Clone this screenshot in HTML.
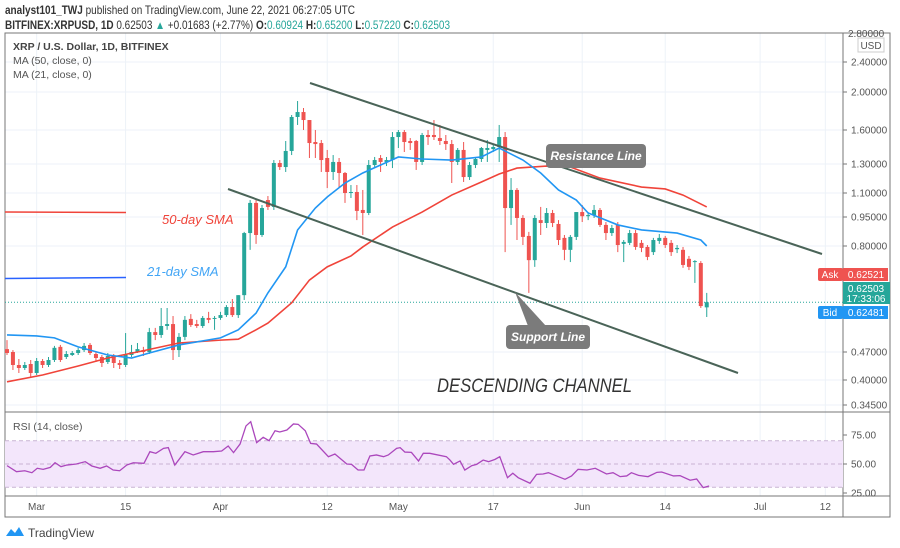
<!DOCTYPE html>
<html><head><meta charset="utf-8">
<style>
body{margin:0;background:#fff;width:900px;height:548px;overflow:hidden;font-family:"Liberation Sans",sans-serif}
svg{position:absolute;left:0;top:0}
</style></head>
<body>
<svg id="c" width="900" height="548" viewBox="0 0 900 548">
<g font-size="12" fill="#333">
<text x="5" y="14" textLength="350" lengthAdjust="spacingAndGlyphs"><tspan font-weight="bold">analyst101_TWJ</tspan> published on TradingView.com, June 22, 2021 06:27:05 UTC</text>
<text x="5" y="29" font-size="11.5" textLength="445" lengthAdjust="spacingAndGlyphs"><tspan font-weight="bold">BITFINEX:XRPUSD, 1D</tspan> 0.62503 <tspan fill="#26a69a">▲</tspan> +0.01683 (+2.77%) <tspan font-weight="bold">O:</tspan><tspan fill="#26a69a">0.60924</tspan> <tspan font-weight="bold">H:</tspan><tspan fill="#26a69a">0.65200</tspan> <tspan font-weight="bold">L:</tspan><tspan fill="#26a69a">0.57220</tspan> <tspan font-weight="bold">C:</tspan><tspan fill="#26a69a">0.62503</tspan></text>
</g>
<g id="grid"></g>
<rect x="5" y="33" width="885" height="484" fill="none" stroke="#777" stroke-width="1"/>
<line x1="843" y1="33" x2="843" y2="517" stroke="#777"/>
<line x1="5" y1="412" x2="890" y2="412" stroke="#777"/>
<line x1="5" y1="496" x2="890" y2="496" stroke="#777"/>
<g id="rsi"></g>
<g id="price"></g>
<g id="axes" font-size="10" fill="#555"></g>
<g>
<line x1="310" y1="83" x2="822" y2="254" stroke="#4a6458" stroke-width="2"/>
<line x1="228" y1="189" x2="738" y2="373" stroke="#4a6458" stroke-width="2"/>
<rect x="546" y="144" width="100" height="24" rx="4" fill="#7b7b7b"/>
<text x="596" y="160" text-anchor="middle" font-size="12" font-style="italic" font-weight="bold" fill="#fff">Resistance Line</text>
<polygon points="515,292 528,326 546,326" fill="#7b7b7b"/>
<rect x="506" y="325" width="84" height="24" rx="4" fill="#7b7b7b"/>
<text x="548" y="341" text-anchor="middle" font-size="12" font-style="italic" font-weight="bold" fill="#fff">Support Line</text>
<line x1="5" y1="212" x2="126" y2="212.5" stroke="#f0443a" stroke-width="1.5"/>
<line x1="5" y1="278.5" x2="126" y2="277.5" stroke="#2962ff" stroke-width="1.5"/>
<text x="162" y="224" font-size="13" font-style="italic" fill="#f0443a">50-day SMA</text>
<text x="147" y="276" font-size="13" font-style="italic" fill="#42a5f5">21-day SMA</text>
<text x="437" y="392" font-size="19" font-style="italic" fill="#333" textLength="195" lengthAdjust="spacingAndGlyphs">DESCENDING CHANNEL</text>
</g>
<g font-size="10.5" fill="#555">
<text x="13" y="50" font-weight="bold" fill="#444">XRP / U.S. Dollar, 1D, BITFINEX</text>
<text x="13" y="64">MA (50, close, 0)</text>
<text x="13" y="78">MA (21, close, 0)</text>
<text x="13" y="430">RSI (14, close)</text>
</g>
<g font-size="10">
<rect x="818" y="268" width="25" height="13" rx="2" fill="#ef5350"/>
<text x="830" y="278" text-anchor="middle" fill="#fff">Ask</text>
<rect x="843" y="268" width="45" height="13" fill="#ef5350"/>
<text x="866" y="278" text-anchor="middle" fill="#fff">0.62521</text>
<rect x="843" y="282" width="47" height="22" fill="#26a69a"/>
<text x="866" y="292" text-anchor="middle" fill="#fff">0.62503</text>
<text x="866" y="302" text-anchor="middle" fill="#fff">17:33:06</text>
<rect x="818" y="306" width="25" height="13" rx="2" fill="#2196f3"/>
<text x="830" y="316" text-anchor="middle" fill="#fff">Bid</text>
<rect x="843" y="306" width="45" height="13" fill="#2196f3"/>
<text x="866" y="316" text-anchor="middle" fill="#fff">0.62481</text>
<rect x="858" y="38" width="26" height="14" fill="#fff" stroke="#ccc"/>
<text x="871" y="49" text-anchor="middle" fill="#555">USD</text>
</g>
<g>
<path d="M6 536 l5 -7 l4 4 l4 -6 l5 9 z" fill="#2196f3"/>
<text x="28" y="537" font-size="12" fill="#444">TradingView</text>
</g>
</svg>
<script>
const priceTicks=[2.4,2.0,1.6,1.3,1.1,0.95,0.8,0.47,0.40,0.345];
const priceTickLabels=["2.40000","2.00000","1.60000","1.30000","1.10000","0.95000","0.80000","0.47000","0.40000","0.34500"];
const rsiTicks=[75,50,25];
const rsiTickLabels=["75.00","50.00","25.00"];
const dateTickDays=[5,20,36,54,66,82,97,111,127,138];
const dateTickLabels=["Mar","15","Apr","12","May","17","Jun","14","Jul","12"];
const opens=[0.479,0.470,0.4375,0.43,0.44,0.4175,0.4475,0.4375,0.45,0.486,0.4575,0.4625,0.4675,0.476,0.492,0.465,0.4575,0.445,0.46,0.4425,0.4375,0.4625,0.47,0.476,0.47,0.532,0.523,0.551,0.557,0.476,0.517,0.573,0.557,0.551,0.576,0.573,0.576,0.585,0.610,0.585,0.647,0.867,1.038,0.857,1.056,1.013,1.309,1.279,1.415,1.737,1.789,1.705,1.494,1.485,1.353,1.245,1.318,1.238,1.10,1.107,0.994,0.975,1.293,1.353,1.318,1.335,1.538,1.582,1.503,1.503,1.318,1.556,1.556,1.529,1.503,1.476,1.318,1.424,1.210,1.293,1.344,1.424,1.432,1.45,1.538,1.006,1.121,0.945,0.852,0.756,0.934,0.919,0.975,0.914,0.842,0.788,0.847,0.981,0.955,0.962,0.994,0.909,0.867,0.909,0.811,0.816,0.867,0.816,0.797,0.781,0.826,0.842,0.816,0.790,0.788,0.760,0.750,0.747,0.609];
const highs=[0.507,0.476,0.4525,0.445,0.45,0.455,0.4525,0.4575,0.489,0.492,0.473,0.473,0.483,0.498,0.498,0.47,0.4625,0.4675,0.465,0.45,0.529,0.492,0.498,0.486,0.545,0.545,0.607,0.607,0.582,0.529,0.582,0.588,0.570,0.582,0.595,0.582,0.595,0.616,0.635,0.647,0.873,1.056,1.056,1.025,1.081,1.335,1.335,1.503,1.758,1.905,1.832,1.705,1.60,1.512,1.424,1.379,1.353,1.245,1.155,1.155,1.121,1.335,1.362,1.379,1.362,1.582,1.60,1.60,1.529,1.512,1.574,1.60,1.705,1.653,1.556,1.512,1.441,1.494,1.318,1.353,1.45,1.512,1.476,1.653,1.582,1.203,1.134,0.962,0.873,0.962,1.013,1.006,0.994,0.934,0.857,0.857,0.981,1.025,0.981,1.025,1.006,0.924,0.909,0.924,0.831,0.883,0.883,0.831,0.805,0.842,0.862,0.852,0.831,0.805,0.797,0.769,0.756,0.753,0.654];
const lows=[0.4625,0.425,0.4175,0.425,0.4075,0.4125,0.43,0.4325,0.445,0.445,0.4525,0.46,0.4625,0.47,0.4625,0.445,0.4325,0.44,0.43,0.4275,0.4325,0.4575,0.4675,0.46,0.465,0.507,0.514,0.539,0.45,0.4575,0.507,0.548,0.545,0.545,0.560,0.539,0.570,0.579,0.579,0.576,0.632,0.788,0.811,0.847,0.994,0.994,1.259,1.245,1.379,1.653,1.60,1.353,1.353,1.245,1.134,1.19,1.134,1.038,1.069,0.934,0.857,0.962,1.272,1.245,1.286,1.272,1.441,1.406,1.424,1.259,1.293,1.468,1.512,1.468,1.424,1.169,1.293,1.176,1.19,1.272,1.318,1.318,1.406,1.318,0.781,0.909,0.831,0.805,0.654,0.735,0.857,0.893,0.898,0.805,0.756,0.750,0.831,0.924,0.934,0.945,0.898,0.831,0.852,0.781,0.750,0.805,0.788,0.781,0.756,0.772,0.811,0.794,0.769,0.778,0.732,0.725,0.685,0.607,0.579];
const closes=[0.4675,0.4375,0.43,0.4375,0.4175,0.4475,0.4375,0.45,0.483,0.45,0.465,0.4675,0.476,0.489,0.4675,0.455,0.4425,0.46,0.4425,0.4375,0.4625,0.47,0.479,0.47,0.532,0.523,0.551,0.557,0.476,0.517,0.570,0.554,0.551,0.576,0.570,0.576,0.585,0.610,0.585,0.647,0.867,1.038,0.857,1.006,1.013,1.309,1.279,1.415,1.737,1.789,1.705,1.485,1.476,1.335,1.245,1.318,1.238,1.10,1.107,0.988,0.975,1.293,1.335,1.318,1.335,1.538,1.582,1.494,1.485,1.318,1.556,1.538,1.538,1.503,1.476,1.318,1.424,1.210,1.293,1.344,1.441,1.441,1.45,1.538,1.006,1.121,0.945,0.847,0.756,0.945,0.919,0.975,0.919,0.831,0.788,0.847,0.981,0.955,0.962,0.994,0.909,0.867,0.893,0.805,0.821,0.867,0.797,0.794,0.766,0.831,0.842,0.805,0.781,0.794,0.741,0.735,0.753,0.613,0.625];
const ma21Days=[0,5,8,12,17,21,24,29,36,39,42,44,47,49,52,54,57,60,63,66,70,75,80,83,87,90,93,96,98,103,107,113,117,118];
const ma21Vals=[0.523,0.520,0.514,0.486,0.4625,0.455,0.4675,0.492,0.514,0.539,0.591,0.654,0.735,0.883,1.006,1.075,1.169,1.238,1.293,1.362,1.344,1.335,1.362,1.441,1.335,1.238,1.121,1.056,0.975,0.909,0.883,0.867,0.831,0.80];
const ma50Days=[0,6,12,17,22,29,36,39,42,44,48,51,54,58,60,65,70,75,80,83,86,91,95,100,107,111,114,118];
const ma50Vals=[0.396,0.4125,0.435,0.455,0.47,0.498,0.507,0.51,0.539,0.560,0.623,0.694,0.735,0.769,0.797,0.898,0.981,1.087,1.176,1.231,1.272,1.286,1.279,1.203,1.141,1.128,1.087,1.013];
const rsiDays=[0,1.6,3,4.2,5.1,6.1,7.3,8.1,9.1,10.1,11.7,13.2,14.3,15.7,16.8,17.9,19,20.2,21.3,23.1,24.1,25.1,26.4,27.2,28.3,30,31.4,33.1,34.8,36.2,37.3,38.2,39.3,40.3,41.1,42.1,43.2,44.2,45.2,46,47.2,48.3,49.1,50.3,51.2,52.2,54.2,55.3,57.3,58.1,59.2,60.2,61.2,62.3,63.5,64.3,65.7,66.3,67.1,68.2,69.4,70.2,71.3,74.1,74.7,75.3,76.4,77.2,78.4,79.2,80.3,81.2,82.3,83.1,84.4,85.3,86.2,88.2,89.3,90.4,91.3,94.1,95.2,96.3,97.8,99.2,101.1,102.2,103.4,104.5,105.3,106.5,108.1,109.6,110.4,112.4,113.5,115.2,116.3,117.4,118.4];
const rsiVals=[48.6,43.4,44.2,42.5,46.3,45.4,47.1,51.1,47.7,49.1,50,52,48.3,46.3,48.3,44.8,44.2,49.1,51.1,50.6,60.6,59.2,63.5,64.1,49.1,60.6,57.8,60.6,60.6,61.2,65.5,59.8,67.2,82.8,86.5,68.4,73,70.1,78.7,77.6,79.3,84.5,84.2,78.7,67.8,67.2,56.3,58.6,50,49.7,44.8,44.8,56.9,57.8,56.3,57.8,63.5,64.1,60.3,60,52.6,59.2,59.2,56.3,53.4,49.7,52.6,44.8,48.6,49.7,53.4,52,54,56.3,38.2,42,38.2,33.4,41.1,41.4,42.5,36.8,39.7,45.4,44.8,46.3,41.4,42.5,39.1,39.7,42.5,40.2,39.1,42.8,43.1,39.7,40,36,37.1,29.6,31];

const NS="http://www.w3.org/2000/svg";
const priceTickY=[62,92,130,164,193,217,246,352,380,405];
const X0=7, DX=5.93;
function xOf(d){return X0+DX*d;}
function yOf(p){
  const n=priceTicks.length;
  for(let i=0;i<n-1;i++){
    const a=priceTicks[i],b=priceTicks[i+1];
    if((p<=a&&p>=b)||i===n-2||(i===0&&p>a)){
      return priceTickY[i]+(a-p)/(a-b)*(priceTickY[i+1]-priceTickY[i]);
    }
  }
  return priceTickY[0];
}
function yR(v){return 435+(75-v)*1.16;}
function mk(tag,attrs,parent){const e=document.createElementNS(NS,tag);for(const k in attrs)e.setAttribute(k,attrs[k]);parent.appendChild(e);return e;}

const gridG=document.getElementById('grid');
priceTicks.forEach((p)=>{
  const l=mk('line',{x1:5,x2:843,y1:yOf(p),y2:yOf(p),stroke:'#edf2f8'},gridG);
  
  
});
dateTickDays.forEach(d=>{
  const l=mk('line',{x1:xOf(d),x2:xOf(d),y1:33,y2:496,stroke:'#edf2f8'},gridG);
  
  
});
const rsiG=document.getElementById('rsi');
const band=mk('rect',{x:5,y:yR(70),width:838,height:yR(30)-yR(70),fill:'#f3e6fb'},rsiG);


[70,50,30].forEach(v=>{
  const l=mk('line',{x1:5,x2:843,y1:yR(v),y2:yR(v),stroke:'#c9b3d3','stroke-dasharray':'4,3'},rsiG);
  
  
});
const rsiPath=mk('polyline',{points:rsiDays.map((d,i)=>xOf(d)+','+yR(rsiVals[i])).join(' '),fill:'none',stroke:'#ab47bc','stroke-width':1.3},rsiG);



const pg=document.getElementById('price');
const lastY=yOf(closes[closes.length-1]);
const cur=mk('line',{x1:5,x2:843,y1:lastY,y2:lastY,stroke:'#26a69a','stroke-dasharray':'1,2'},pg);


opens.forEach((o,i)=>{
  const c=closes[i],up=c>=o,col=up?'#26a69a':'#ef5350',x=xOf(i);
  const w=mk('line',{x1:x,x2:x,y1:yOf(highs[i]),y2:yOf(lows[i]),stroke:col,'stroke-width':1},pg);
  
  
  const by=Math.min(yOf(o),yOf(c)),h=Math.max(1,Math.abs(yOf(o)-yOf(c)));
  const b=mk('rect',{x:x-2,y:by,width:4,height:h,fill:col},pg);
  
  
});
const m50=mk('polyline',{points:ma50Days.map((d,i)=>xOf(d)+','+yOf(ma50Vals[i])).join(' '),fill:'none',stroke:'#f0443a','stroke-width':1.6},pg);


const m21=mk('polyline',{points:ma21Days.map((d,i)=>xOf(d)+','+yOf(ma21Vals[i])).join(' '),fill:'none',stroke:'#2196f3','stroke-width':1.6},pg);



const axG=document.getElementById('axes');
const topLbl=mk('text',{x:848,y:37},axG);
topLbl.textContent='2.80000';


priceTicks.forEach((p,i)=>{
  const y=yOf(p);
  const tk=mk('line',{x1:843,x2:847,y1:y,y2:y,stroke:'#777'},axG);
  
  
  const t=mk('text',{x:851,y:y+3.5},axG);
  t.textContent=priceTickLabels[i];
  
  
});
rsiTicks.forEach((v,i)=>{
  const y=yR(v);
  const tk=mk('line',{x1:843,x2:847,y1:y,y2:y,stroke:'#777'},axG);
  
  
  const t=mk('text',{x:851,y:y+3.5},axG);
  t.textContent=rsiTickLabels[i];
  
  
});
dateTickDays.forEach((d,i)=>{
  const t=mk('text',{x:xOf(d),y:510,'text-anchor':'middle'},axG);
  t.textContent=dateTickLabels[i];
  
  
});
</script>
</body></html>
